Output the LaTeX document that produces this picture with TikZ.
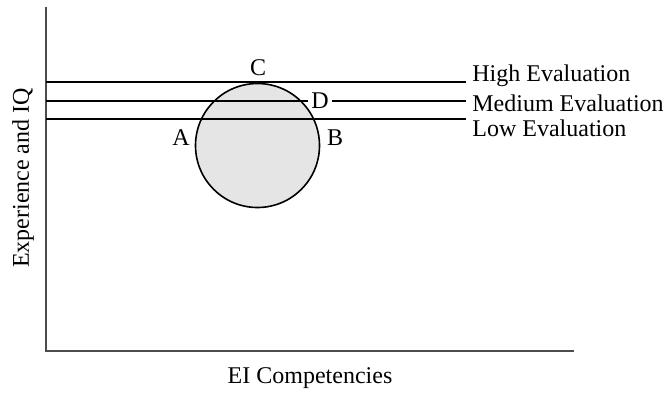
\documentclass[tikz,border=0pt]{standalone}
\usepackage{fontspec}
\setmainfont{Liberation Serif}
\begin{document}
\begin{tikzpicture}[x=0.5pt,y=-0.5pt,font=\fontsize{12}{14}\selectfont]
	\tikzset{level/.style={line width=1.1pt}, lbl/.style={inner sep=1.5pt}}
	\useasboundingbox (0,0) rectangle (668,392);
	% axes
	\coordinate (ytop) at (46,7);
	\coordinate (origin) at (46,351);
	\coordinate (xend) at (574,351);
	\draw [line width=0.8pt, black!70] (ytop) -- (origin) -- (xend);
	\node (xlab) at (310,378) {EI Competencies};
	\node [rotate=90] (ylab) at (23,178) {Experience and IQ};
	% the circle
	\draw [fill=black!10, line width=0.8pt] (257.5,145.5) circle (62);
	% evaluation levels
	\node [anchor=west, lbl] (high) at (469,76) {High Evaluation};
	\node [anchor=west, lbl] (med) at (469,103) {Medium Evaluation};
	\node [anchor=west, lbl] (low) at (469,128) {Low Evaluation};
	\coordinate (highL) at (46,82);
	\coordinate (highR) at (466,82);
	\coordinate (medL) at (46,101);
	\coordinate (medR) at (466,101);
	\coordinate (lowL) at (46,119);
	\coordinate (lowR) at (466,119);
	\node [lbl] (D) at (320,101) {D};
	\draw [level] (highL) -- (highR);
	\draw [level] (medL) -- (D.west);
	\draw [level] (D.east) -- (medR);
	\draw [level] (lowL) -- (lowR);
	\node (C) at (258,68) {C};
	\node (A) at (181,138) {A};
	\node (B) at (335,138) {B};
\end{tikzpicture}
\end{document}
